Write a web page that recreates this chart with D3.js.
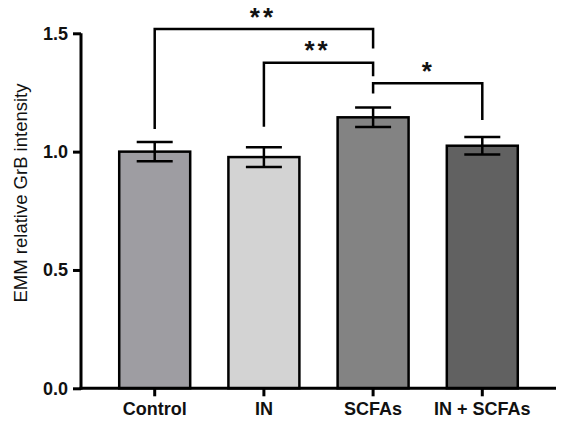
<!DOCTYPE html>
<html><head><meta charset="utf-8">
<script src="https://cdn.jsdelivr.net/npm/d3@7"></script>
<style>body{margin:0;background:#fff}svg{display:block}</style>
</head><body>
<svg id="c" width="567" height="423"></svg>
<script>
const categories = ["Control", "IN", "SCFAs", "IN + SCFAs"];
const values = [1.0, 0.977, 1.145, 1.025];
const errors = [0.041, 0.042, 0.041, 0.037];
const barColors = ["#9e9da2", "#d3d3d3", "#838383", "#616161"];
const yTicks = [0.0, 0.5, 1.0, 1.5];
const yTickLabels = ["0.0", "0.5", "1.0", "1.5"];
// significance brackets: [from, to, bracket height, left leg bottom, right leg bottom, label]
const brFrom = ["Control", "IN", "SCFAs"];
const brTo = ["SCFAs", "SCFAs", "IN + SCFAs"];
const brY = [1.518, 1.376, 1.289];
const brLeftEnd = [1.096, 1.105, 1.246];
const brRightEnd = [1.436, 1.319, 1.134];
const brLabel = ["**", "**", "*"];

const svg = d3.select("#c");
const x = d3.scaleBand().domain(categories).range([81, 556]).paddingInner(0.35).paddingOuter(0.35);
const y = d3.scaleLinear().domain([0, 1.5]).range([388.3, 33.3]);

// bars
svg.selectAll("rect.bar").data(categories).enter().append("rect")
  .attr("x", d => x(d)).attr("width", x.bandwidth())
  .attr("y", (d, i) => y(values[i])).attr("height", (d, i) => y(0) - y(values[i]))
  .attr("fill", (d, i) => barColors[i]).attr("stroke", "#000").attr("stroke-width", 2.5);

// error bars
const capW = 36;
categories.forEach((c, i) => {
  const cx = x(c) + x.bandwidth() / 2;
  const g = svg.append("g").attr("stroke", "#000").attr("stroke-width", 2.5);
  g.append("line").attr("x1", cx).attr("x2", cx).attr("y1", y(values[i] + errors[i])).attr("y2", y(values[i] - errors[i]));
  g.append("line").attr("x1", cx - capW / 2).attr("x2", cx + capW / 2).attr("y1", y(values[i] + errors[i])).attr("y2", y(values[i] + errors[i]));
  g.append("line").attr("x1", cx - capW / 2).attr("x2", cx + capW / 2).attr("y1", y(values[i] - errors[i])).attr("y2", y(values[i] - errors[i]));
});

// axes
const yAxis = d3.axisLeft(y).tickValues(yTicks).tickFormat((d, i) => yTickLabels[i]).tickSize(8).tickSizeOuter(0).tickPadding(5);
const gy = svg.append("g").attr("transform", "translate(81,0)").call(yAxis);
gy.select(".domain").attr("stroke-width", 3).attr("d", `M0,${y(1.5)}V${y(0) + 1.5}`);
gy.selectAll(".tick line").attr("stroke-width", 3);
gy.selectAll(".tick text").attr("font-family", "Liberation Sans, Arial, sans-serif").attr("font-weight", "bold").attr("font-size", 18).attr("fill", "#111");

const xAxis = d3.axisBottom(x).tickSize(8).tickSizeOuter(0).tickPadding(6);
const gx = svg.append("g").attr("transform", `translate(0,${y(0)})`).call(xAxis);
gx.select(".domain").attr("stroke-width", 3).attr("d", "M79.5,0H556");
gx.selectAll(".tick line").attr("stroke-width", 3);
gx.selectAll(".tick text").attr("font-family", "Liberation Sans, Arial, sans-serif").attr("font-weight", "bold").attr("font-size", 18).attr("fill", "#111");

// y label
svg.append("text").attr("transform", "translate(27,193) rotate(-90)").attr("text-anchor", "middle")
  .attr("font-family", "Liberation Sans, Arial, sans-serif").attr("font-size", 18.5).attr("fill", "#111")
  .text("EMM relative GrB intensity");

// brackets
brFrom.forEach((f, i) => {
  const x1 = x(f) + x.bandwidth() / 2, x2 = x(brTo[i]) + x.bandwidth() / 2;
  svg.append("path").attr("fill", "none").attr("stroke", "#000").attr("stroke-width", 2.5)
    .attr("d", `M${x1},${y(brLeftEnd[i])}V${y(brY[i])}H${x2}V${y(brRightEnd[i])}`);
  svg.append("text").attr("x", (x1 + x2) / 2 - 1).attr("y", y(brY[i]) - 3.5)
    .attr("text-anchor", "middle").attr("font-family", "Liberation Sans, Arial, sans-serif")
    .attr("font-weight", "bold").attr("font-size", 26).attr("letter-spacing", i < 2 ? 3 : 0).attr("fill", "#111")
    .text(brLabel[i]);
});
</script>
</body></html>
